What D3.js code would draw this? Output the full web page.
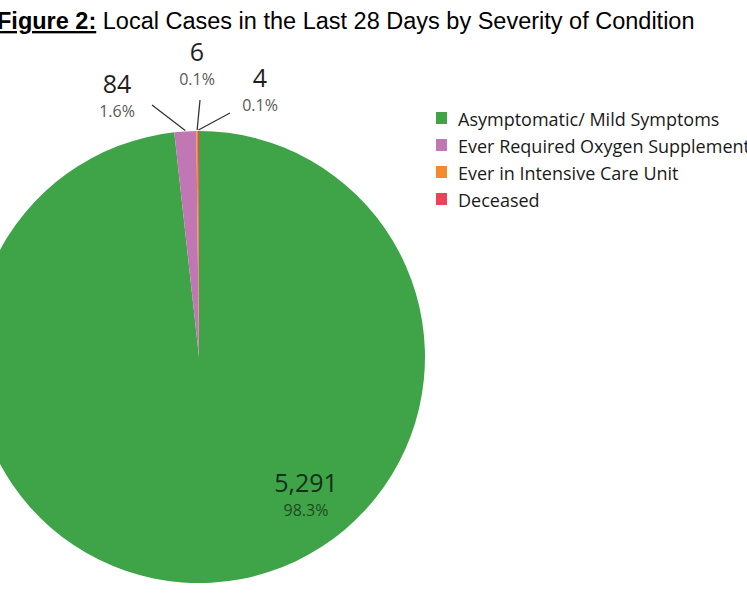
<!DOCTYPE html>
<html>
<head>
<meta charset="utf-8">
<script src="https://cdn.jsdelivr.net/npm/d3@7"></script>
<style>
  body { margin: 0; background: #fff; }
  svg { display: block; }
</style>
</head>
<body>
<svg id="chart" width="747" height="598"></svg>
<script>
// data
var categories = ["Asymptomatic/ Mild Symptoms", "Ever Required Oxygen Supplementation",
                  "Ever in Intensive Care Unit", "Deceased"];
var cases = [5291, 84, 6, 4];
var percentLabels = ["98.3%", "1.6%", "0.1%", "0.1%"];

var colors = ["#3ea447", "#c077b3", "#f5892e", "#ef4157"];

// label anchors (relative to pie centre) and leader-line starts, layout only
var labelPos = [
  { x: 107, y: 135, line: null },
  { x: -82, y: -264, line: [-47, -252] },
  { x: -2, y: -296, line: [1, -257] },
  { x: 61, y: -270, line: [31, -244] }
];

var svg = d3.select("#chart");
var cx = 199, cy = 357, r = 226;

// title
var title = svg.append("text")
    .attr("x", -3)
    .attr("y", 29)
    .attr("font-family", "Liberation Sans, Arial, sans-serif")
    .attr("font-size", 23.5)
    .attr("fill", "#000");
title.append("tspan")
    .attr("font-weight", "bold")
    .attr("text-decoration", "underline")
    .text("Figure 2:");
title.append("tspan").text(" Local Cases in the Last 28 Days by Severity of Condition");

var pie = d3.pie().sort(null).value(function(d){ return d; });
var arcs = pie(cases);
var arc = d3.arc().innerRadius(0).outerRadius(r);

var g = svg.append("g").attr("transform", "translate(" + cx + "," + cy + ")");

g.selectAll("path.slice")
  .data(arcs)
  .enter().append("path")
    .attr("class", "slice")
    .attr("d", arc)
    .attr("fill", function(d, i){ return colors[i]; });

// leader lines
g.selectAll("line.leader")
  .data(arcs.filter(function(d, i){ return labelPos[i].line; }))
  .enter().append("line")
    .attr("class", "leader")
    .attr("x1", function(d){ return labelPos[d.index].line[0]; })
    .attr("y1", function(d){ return labelPos[d.index].line[1]; })
    .attr("x2", function(d){ var a = (d.startAngle + d.endAngle) / 2; return Math.sin(a) * (r + 1); })
    .attr("y2", function(d){ var a = (d.startAngle + d.endAngle) / 2; return -Math.cos(a) * (r + 1); })
    .attr("stroke", "#333")
    .attr("stroke-width", 1.3);

var fmt = d3.format(",");
var labels = g.selectAll("g.lab")
  .data(arcs)
  .enter().append("g")
    .attr("class", "lab")
    .attr("transform", function(d, i){ return "translate(" + labelPos[i].x + "," + labelPos[i].y + ")"; });

labels.append("text")
    .attr("text-anchor", "middle")
    .attr("font-family", "Open Sans, Noto Sans, sans-serif")
    .attr("font-size", 25)
    .attr("fill", function(d, i){ return i === 0 ? "#13301a" : "#1f1f1f"; })
    .text(function(d){ return fmt(d.data); });

labels.append("text")
    .attr("text-anchor", "middle")
    .attr("y", 24)
    .attr("font-family", "Open Sans, Noto Sans, sans-serif")
    .attr("font-size", 16)
    .attr("fill", function(d, i){ return i === 0 ? "#1f4a25" : "#595959"; })
    .text(function(d, i){ return percentLabels[i]; });

// legend
var legend = svg.append("g").attr("transform", "translate(436,112)");
var items = legend.selectAll("g.item")
  .data(categories)
  .enter().append("g")
    .attr("class", "item")
    .attr("transform", function(d, i){ return "translate(0," + (i * 27) + ")"; });

items.append("rect")
    .attr("width", 11)
    .attr("height", 12)
    .attr("fill", function(d, i){ return colors[i]; });

items.append("text")
    .attr("x", 22)
    .attr("y", 13.5)
    .attr("font-family", "Open Sans, Noto Sans, sans-serif")
    .attr("font-size", 18)
    .attr("fill", "#1a1a1a")
    .text(function(d){ return d; });
</script>
</body>
</html>
